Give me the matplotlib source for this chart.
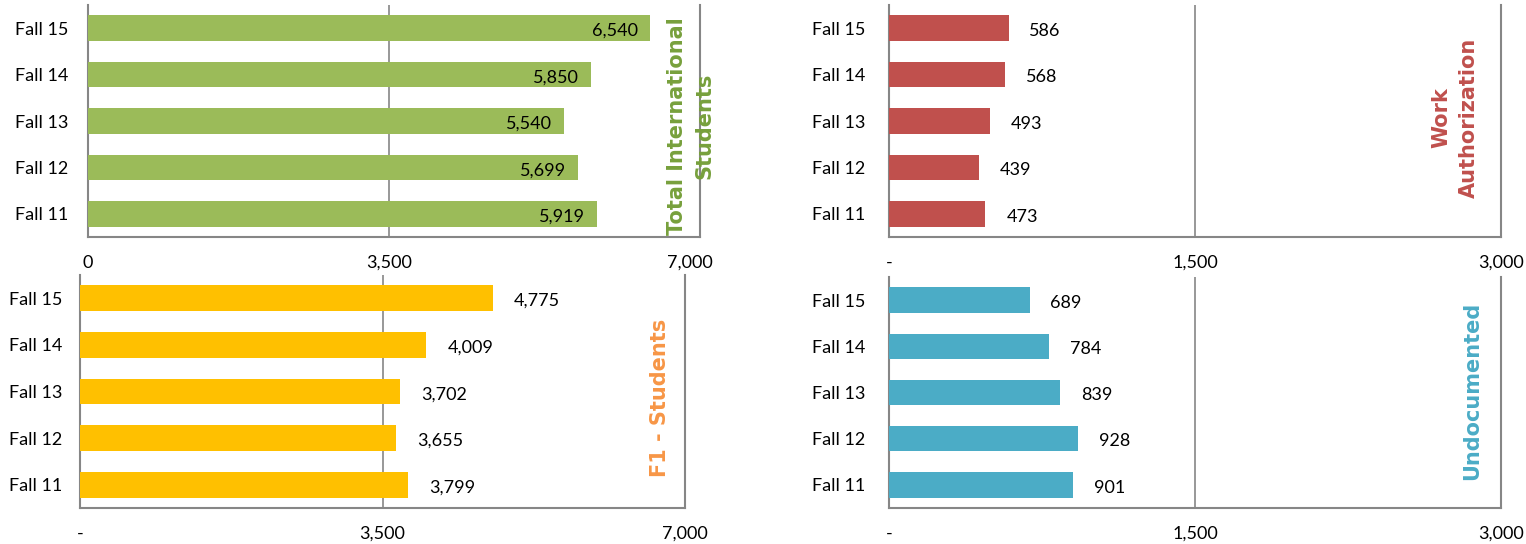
import matplotlib.pyplot as plt

# data
categorias = ["Fall 11", "Fall 12", "Fall 13", "Fall 14", "Fall 15"]
total_intl = [5919, 5699, 5540, 5850, 6540]
work_auth = [473, 439, 493, 568, 586]
f1_students = [3799, 3655, 3702, 4009, 4775]
undocumented = [901, 928, 839, 784, 689]

plt.rcParams['font.family'] = ['Lato', 'DejaVu Sans']

fig = plt.figure(figsize=(15.26, 5.44), dpi=100)
W, H = 1526, 544


def ejes(x0, x1, y0, y1):
    return fig.add_axes([x0 / W, 1 - y1 / H, (x1 - x0) / W, (y1 - y0) / H])


paneles = [
    # valores, color barra, titulo, color titulo, caja, xlim, ticks, etiquetas, dentro, pad_y, pos titulo
    (total_intl, '#9BBB59', 'Total International\nStudents', '#77A03C',
     (88, 700, 5, 237), 7000 * 612 / 602, [0, 3500, 7000], ['0', '3,500', '7,000'], True, 14, (691, 126)),
    (work_auth, '#C0504D', 'Work\nAuthorization', '#C0504D',
     (889, 1501, 5, 237), 3000, [0, 1500, 3000], ['-', '1,500', '3,000'], False, 17, (1455, 118)),
    (f1_students, '#FFC000', 'F1 - Students', '#F79646',
     (80, 685, 275, 508), 7000, [0, 3500, 7000], ['-', '3,500', '7,000'], False, 13, (660, 398)),
    (undocumented, '#4BACC6', 'Undocumented', '#4BACC6',
     (889, 1501, 277, 508), 3000, [0, 1500, 3000], ['-', '1,500', '3,000'], False, 17, (1472, 391)),
]

for vals, col, titulo, col_t, caja, xmax, ticks, etiq, dentro, pady, pos_t in paneles:
    ax = ejes(*caja)
    y = list(range(len(categorias)))
    ax.barh(y, vals, height=0.55, color=col, zorder=3)
    ax.set_xlim(0, xmax)
    ax.set_ylim(-0.5, 4.5)
    ax.set_yticks(y)
    ax.set_yticklabels(categorias, fontsize=13)
    ax.set_xticks(ticks)
    ax.set_xticklabels(etiq, fontsize=13)
    ax.tick_params(axis='x', length=0, pad=13)
    ax.tick_params(axis='y', length=0, pad=pady)
    ax.grid(False)
    ax.axvline(ticks[1], color='#868686', lw=1.2, zorder=1)
    for s in ['left', 'bottom', 'right']:
        ax.spines[s].set_color('#868686')
        ax.spines[s].set_linewidth(1.5)
    ax.spines['top'].set_visible(False)

    for yi, v in zip(y, vals):
        txt = f"{v:,}"
        if dentro:
            ax.annotate(txt, (v, yi), xytext=(-9, -2), textcoords='offset points',
                        ha='right', va='center', fontsize=13, zorder=4)
        else:
            ax.annotate(txt, (v, yi), xytext=(15, -2), textcoords='offset points',
                        ha='left', va='center', fontsize=13, zorder=4)

    fig.text(pos_t[0] / W, 1 - pos_t[1] / H, titulo, rotation=90, ha='center', va='center',
             multialignment='center', color=col_t, fontsize=15, fontweight='bold',
             family='DejaVu Sans', linespacing=1.45)

plt.savefig("out.png", dpi=100)
